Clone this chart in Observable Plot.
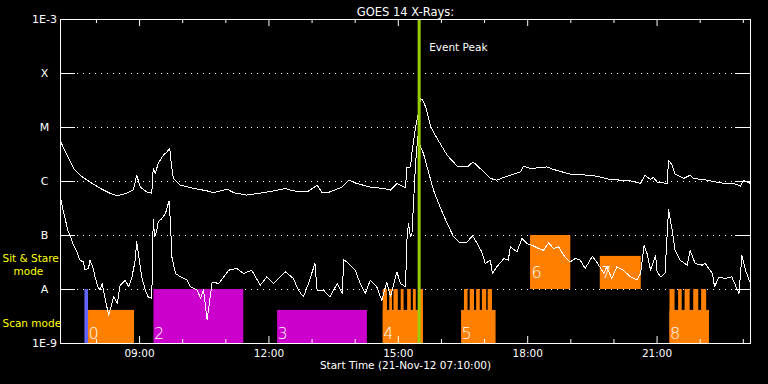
<!DOCTYPE html>
<html>
<head>
<meta charset="utf-8">
<script src="https://cdn.jsdelivr.net/npm/d3@7"></script>
<script src="https://cdn.jsdelivr.net/npm/@observablehq/plot@0.6"></script>
<style>
  html, body { margin: 0; padding: 0; background: black; }
</style>
</head>
<body>
<div id="chart"></div>
<script>
// ---------- DATA ----------
const chartTitle = "GOES 14 X-Rays:";
const axisCaption = "Start Time (21-Nov-12 07:10:00)";
const startTime = "07:10";
const endTime = "23:10";
const peakTime = "15:29";
const peakLabel = "Event Peak";

const yLevels = [1e-9, 1e-8, 1e-7, 1e-6, 1e-5, 1e-4, 1e-3];
const yLabels = ["1E-9", "A", "B", "C", "M", "X", "1E-3"];
const gridLevels = [1e-8, 1e-7, 1e-6, 1e-5, 1e-4];

const majorTicks = ["09:00", "12:00", "15:00", "18:00", "21:00"];
const minorTicks = ["08:00", "10:00", "11:00", "13:00", "14:00", "16:00", "17:00", "19:00", "20:00", "22:00", "23:00"];

const sitStareLabel = "Sit & Stare";
const modeWord = "mode";
const scanLabel = "Scan mode";

// long channel (1-8 Å) flux, W/m^2
const longChannel = [
  ["07:10",5.55e-6],["07:19",3.06e-6],["07:28",1.76e-6],["07:37",1.31e-6],["07:51",9.8e-7],
  ["08:05",7.5e-7],["08:19",6.06e-7],["08:29",5.4e-7],["08:42",6.1e-7],["08:51",6.9e-7],
  ["08:54",9.8e-7],["08:56",1.31e-6],["09:01",7.9e-7],["09:10",6.4e-7],["09:17",6.1e-7],
  ["09:19",1.76e-6],["09:22",1.42e-6],["09:26",2.18e-6],["09:33",3.06e-6],["09:38",3.53e-6],
  ["09:42",4.08e-6],["09:44",2.18e-6],["09:47",1.15e-6],["09:57",8.5e-7],["10:15",7.5e-7],
  ["10:34",6.7e-7],["10:43",6.2e-7],["11:02",7.2e-7],["11:11",6.2e-7],["11:29",5.6e-7],
  ["11:48",6.1e-7],["12:06",6.7e-7],["12:23",7.4e-7],["12:34",6.7e-7],["12:53",6.4e-7],
  ["13:07",8.5e-7],["13:14",6.2e-7],["13:25",6.4e-7],["13:42",7.9e-7],["13:51",1.06e-6],
  ["14:02",9.2e-7],["14:21",7.9e-7],["14:40",7.4e-7],["14:49",6.9e-7],["14:58",9.2e-7],
  ["15:10",7.7e-7],["15:12",1.82e-6],["15:17",1.86e-6],["15:19",3.53e-6],["15:24",1.03e-5],
  ["15:27",1.57e-5],["15:31",3.44e-5],["15:34",3.2e-5],["15:38",2.41e-5],["15:45",1.03e-5],
  ["15:54",6.25e-6],["16:08",3.06e-6],["16:22",1.92e-6],["16:36",1.86e-6],["16:44",2.31e-6],
  ["16:54",1.74e-6],["17:08",1.14e-6],["17:17",1.06e-6],["17:31",1.25e-6],["17:50",1.5e-6],
  ["17:54",1.92e-6],["18:04",1.74e-6],["18:27",1.86e-6],["18:36",1.67e-6],["18:59",1.37e-6],
  ["19:23",1.31e-6],["19:37",1.25e-6],["19:55",1.09e-6],["20:09",1.06e-6],["20:23",1.03e-6],
  ["20:37",9.2e-7],["20:43",1.31e-6],["20:51",1.09e-6],["20:55",1.19e-6],["21:00",9.8e-7],
  ["21:14",9.2e-7],["21:16",2.48e-6],["21:21",2.0e-6],["21:25",1.37e-6],["21:37",1.14e-6],
  ["21:46",1.31e-6],["21:51",1.14e-6],["22:10",1.06e-6],["22:28",9.4e-7],["22:47",9.2e-7],
  ["22:56",8.2e-7],["23:00",1.06e-6],["23:10",9.2e-7]
];

// short channel (0.5-4 Å) flux, W/m^2
const shortChannel = [
  ["07:11",4.37e-7],["07:13",3.2e-7],["07:17",1.92e-7],["07:20",1.25e-7],["07:24",9.4e-8],
  ["07:28",6.6e-8],["07:33",4.97e-8],["07:37",3.49e-8],["07:42",3.24e-8],["07:44",2.28e-8],
  ["07:49",2.48e-8],["07:51",3.49e-8],["07:55",2.62e-8],["07:58",1.71e-8],["08:02",1.12e-8],
  ["08:05",9.7e-9],["08:08",1.29e-8],["08:11",7.9e-9],["08:17",3.34e-9],["08:24",7.3e-9],
  ["08:29",5.6e-9],["08:33",1.2e-8],["08:40",1.49e-8],["08:45",1.12e-8],["08:49",1.6e-8],
  ["08:54",3.49e-8],["08:56",7.85e-8],["08:59",4.0e-8],["09:03",1.71e-8],["09:08",9.7e-9],
  ["09:12",7.3e-9],["09:17",6.9e-9],["09:19",1.98e-7],["09:21",9.4e-8],["09:24",1.25e-7],
  ["09:26",1.79e-7],["09:31",2.06e-7],["09:36",2.55e-7],["09:41",4.37e-7],["09:43",1.67e-7],
  ["09:45",4.0e-8],["09:50",1.98e-8],["09:57",1.71e-8],["10:06",1.49e-8],["10:11",1.12e-8],
  ["10:20",9.7e-9],["10:25",6.9e-9],["10:29",1.0e-8],["10:34",2.7e-9],["10:41",1.38e-8],
  ["10:50",1.29e-8],["11:04",2.28e-8],["11:15",2.45e-8],["11:25",1.98e-8],["11:36",2.28e-8],
  ["11:48",1.2e-8],["11:57",1.71e-8],["12:06",1.29e-8],["12:23",2.12e-8],["12:34",1.6e-8],
  ["12:41",9.7e-9],["12:48",7.3e-9],["12:55",1.29e-8],["13:04",3.03e-8],["13:07",9.7e-9],
  ["13:16",9.7e-9],["13:25",7.3e-9],["13:35",1.29e-8],["13:42",8.4e-9],["13:44",3.59e-8],
  ["13:51",3.03e-8],["14:00",2.28e-8],["14:07",1.29e-8],["14:14",8.4e-9],["14:21",1.49e-8],
  ["14:30",1.12e-8],["14:37",6.3e-9],["14:44",1.38e-8],["14:49",7.3e-9],["14:58",2.12e-8],
  ["15:03",1.29e-8],["15:10",1.12e-8],["15:12",8.2e-8],["15:14",1.67e-7],["15:17",9.4e-8],
  ["15:19",1.09e-7],["15:24",2.15e-6],["15:27",6.7e-6],["15:31",4.37e-6],["15:35",3.3e-6],
  ["15:40",1.86e-6],["15:49",6.9e-7],["15:58",3.39e-7],["16:08",1.67e-7],["16:17",9.4e-8],
  ["16:26",7.3e-8],["16:36",7.6e-8],["16:43",9.9e-8],["16:50",7.1e-8],["16:56",4.97e-8],
  ["17:01",3.03e-8],["17:08",3.49e-8],["17:11",1.98e-8],["17:17",2.62e-8],["17:27",3.75e-8],
  ["17:33",3.49e-8],["17:36",6.2e-8],["17:45",4.97e-8],["17:52",8.8e-8],["17:59",7.1e-8],
  ["18:06",6.6e-8],["18:15",5.75e-8],["18:22",5.3e-8],["18:29",7.3e-8],["18:36",5.75e-8],
  ["18:43",6.2e-8],["18:50",4.3e-8],["18:59",3.24e-8],["19:06",3.75e-8],["19:13",3.49e-8],
  ["19:20",2.45e-8],["19:30",4.14e-8],["19:36",3.24e-8],["19:46",1.98e-8],["19:50",2.62e-8],
  ["19:57",1.6e-8],["20:04",2.62e-8],["20:13",2.28e-8],["20:23",1.71e-8],["20:32",1.49e-8],
  ["20:37",1.98e-8],["20:42",6.6e-8],["20:46",4.64e-8],["20:51",2.28e-8],["20:58",4.3e-8],
  ["21:00",2.12e-8],["21:05",1.71e-8],["21:11",1.98e-8],["21:16",3.03e-7],["21:21",1.25e-7],
  ["21:25",5.3e-8],["21:32",3.49e-8],["21:42",2.82e-8],["21:46",5.3e-8],["21:53",3.03e-8],
  ["22:03",2.82e-8],["22:07",3.03e-8],["22:17",1.98e-8],["22:20",1.12e-8],["22:26",1.71e-8],
  ["22:35",1.6e-8],["22:44",1.71e-8],["22:54",8.4e-9],["22:58",4.3e-8],["23:03",2.28e-8],
  ["23:10",1.29e-8]
];

// observing blocks: label, start, end, kind, mode, top flux
const blockLabels = ["",      "0",     "2",     "3",     "4",     "5",     "6",     "7",     "8"];
const blockStarts = ["07:44", "07:49", "09:20", "12:12", "14:39", "16:28", "18:04", "19:41", "21:18"];
const blockEnds   = ["07:49", "08:53", "11:25", "14:17", "15:35", "17:16", "19:00", "20:38", "22:13"];
const blockKinds  = ["c",     "a",     "b",     "b",     "a",     "a",     "a",     "a",     "a"];
const blockModes  = ["scan",  "scan",  "scan",  "scan",  "scan",  "scan",  "sit",   "sit",   "scan"];
const blockTops   = [1e-8,    4.1e-9,  1e-8,    4.1e-9,  4.1e-9,  4.1e-9,  1e-7,    4.1e-8,  4.1e-9];

// scan sub-steps reaching the A level
const scanSteps = [
  ["14:39","14:45"],["14:48","14:52"],["14:54","15:00"],["15:04","15:08"],["15:13","15:18"],["15:21","15:25"],["15:29","15:35"],
  ["16:32","16:37"],["16:40","16:46"],["16:49","16:54"],["16:57","17:03"],["17:05","17:11"],
  ["21:18","21:25"],["21:30","21:35"],["21:39","21:46"],["21:51","21:58"],["22:02","22:09"]
];

// ---------- BUILD ----------
const parse = s => { const [h, m] = s.split(":").map(Number); return new Date(Date.UTC(2012, 10, 21, h, m)); };
const kindColor = {a: "#ff8000", b: "#cc00cc", c: "#6464ff"};
const modeBottom = {scan: 1e-9, sit: 1e-8};

const longData = longChannel.map(([t, v]) => ({t: parse(t), v}));
const shortData = shortChannel.map(([t, v]) => ({t: parse(t), v}));
const blocks = blockLabels.map((label, i) => ({
  label, start: parse(blockStarts[i]), end: parse(blockEnds[i]),
  kind: blockKinds[i], mode: blockModes[i], top: blockTops[i], bottom: modeBottom[blockModes[i]]
}));
const steps = scanSteps.map(([a, b]) => ({start: parse(a), end: parse(b)}));
const yLabelData = yLevels.map((v, i) => ({v, label: yLabels[i]}));
const white = "white";
const yellow = "#ffff00";
const font = "'DejaVu Sans', sans-serif";

const chart = Plot.plot({
  width: 768,
  height: 384,
  marginTop: 19,
  marginRight: 18,
  marginBottom: 41,
  marginLeft: 60,
  style: {background: "black", color: "white", fontFamily: font, fontSize: "11px"},
  x: {type: "utc", domain: [parse(startTime), parse(endTime)], axis: null},
  y: {type: "log", domain: [yLevels[0], yLevels[yLevels.length - 1]], axis: null},
  marks: [
    // dotted grid
    Plot.tickY(gridLevels, {y: d => d, stroke: white, insetLeft: 15, insetRight: 15, strokeDasharray: "1,5", strokeDashoffset: -2}),
    // observing blocks
    Plot.rect(steps, {x1: "start", x2: "end", y1: () => 1e-9, y2: () => 1e-8, fill: kindColor.a}),
    Plot.rect(blocks, {x1: "start", x2: "end", y1: "bottom", y2: "top", fill: d => kindColor[d.kind]}),
    // flux curves
    Plot.line(longData, {x: "t", y: "v", stroke: white, strokeWidth: 1, shapeRendering: "crispEdges"}),
    Plot.line(shortData, {x: "t", y: "v", stroke: white, strokeWidth: 1, shapeRendering: "crispEdges"}),
    // y ticks (inside, both sides)
    Plot.tickY(gridLevels, {y: d => d, stroke: white, insetRight: 675}),
    Plot.tickY(gridLevels, {y: d => d, stroke: white, insetLeft: 675}),
    // x ticks (inside, bottom and top)
    Plot.tickX(majorTicks, {x: d => parse(d), stroke: white, insetTop: 317}),
    Plot.tickX(majorTicks, {x: d => parse(d), stroke: white, insetBottom: 317}),
    Plot.tickX(minorTicks, {x: d => parse(d), stroke: white, insetTop: 320}),
    Plot.tickX(minorTicks, {x: d => parse(d), stroke: white, insetBottom: 320}),
    // event peak line
    Plot.ruleX([peakTime], {x: d => parse(d), stroke: "#99cc00", strokeWidth: 3}),
    Plot.frame({stroke: white}),
    // block labels
    Plot.text(blocks.filter(d => d.mode === "scan"), {x: "start", y: () => 1e-9, text: "label", fill: white, fontSize: 16, fontWeight: 200, textAnchor: "start", dx: 0, dy: -10}),
    Plot.text(blocks.filter(d => d.mode === "sit"), {x: "start", y: () => 1e-8, text: "label", fill: white, fontSize: 16, fontWeight: 200, textAnchor: "start", dx: 1, dy: -17}),
    // y tick labels
    Plot.text(yLabelData, {y: "v", text: "label", frameAnchor: "left", dx: -16, textAnchor: "middle", fill: white, fontSize: 11}),
    // x tick labels
    Plot.text(majorTicks, {x: d => parse(d), text: d => d, frameAnchor: "bottom", dy: 13, fill: white, fontSize: 10.5}),
    // caption, title, peak label
    Plot.text([axisCaption], {text: d => d, frameAnchor: "bottom", dy: 25, fill: white, fontSize: 10.5}),
    Plot.text([chartTitle], {text: d => d, frameAnchor: "top", dy: -12, fill: white, fontSize: 11.5}),
    Plot.text([peakLabel], {x: () => parse(peakTime), text: d => d, frameAnchor: "top", dx: 10, dy: 24, textAnchor: "start", fill: white, fontSize: 10.5}),
    // mode labels (yellow)
    Plot.text([sitStareLabel], {y: () => 1e-8, text: d => d, frameAnchor: "left", dx: -58, dy: -31, textAnchor: "start", fill: yellow, fontSize: 10.5}),
    Plot.text([modeWord], {y: () => 1e-8, text: d => d, frameAnchor: "left", dx: -47, dy: -18, textAnchor: "start", fill: yellow, fontSize: 10.5}),
    Plot.text([scanLabel], {y: () => 1e-9, text: d => d, frameAnchor: "left", dx: -58, dy: -20, textAnchor: "start", fill: yellow, fontSize: 10.5})
  ]
});
document.getElementById("chart").appendChild(chart);
</script>
</body>
</html>
